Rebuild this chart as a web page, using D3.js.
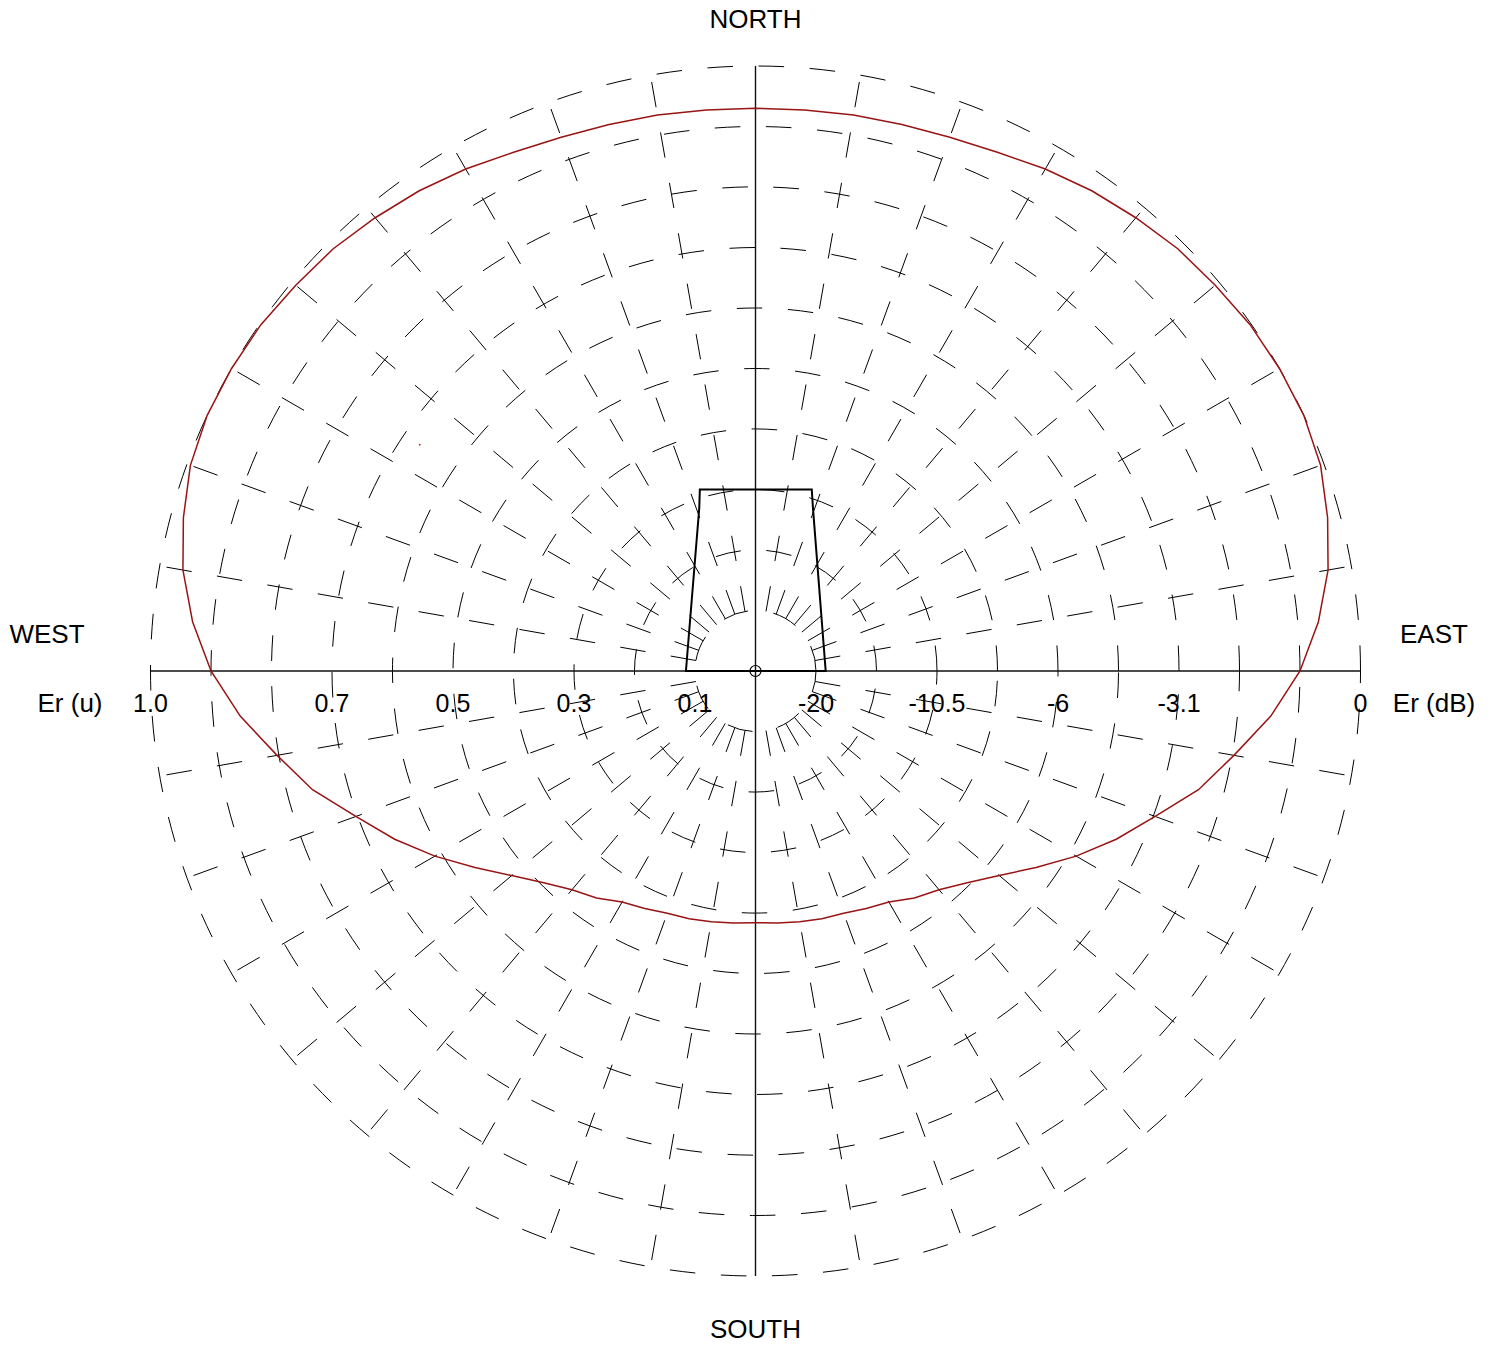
<!DOCTYPE html>
<html>
<head>
<meta charset="utf-8">
<script src="https://cdn.jsdelivr.net/npm/d3@7"></script>
<style>
  html, body { margin: 0; padding: 0; background: #fff; }
  svg text { font-family: "Liberation Sans", Arial, sans-serif; fill: #000; }
</style>
</head>
<body>
<svg id="chart" width="1496" height="1347"></svg>
<script>
// ---- data ----
// grid circles (field strength, linear units)
const gridLevels = [0.1, 0.2, 0.3, 0.4, 0.5, 0.6, 0.7, 0.8, 0.9, 1.0];
// left-hand scale (linear) and right-hand scale (dB)
const linTicks = [1.0, 0.7, 0.5, 0.3, 0.1];
const linTickLabels = ["1.0", "0.7", "0.5", "0.3", "0.1"];
const dbTicks = [0.1, 0.3, 0.5, 0.7, 1.0];
const dbTickLabels = ["-20", "-10.5", "-6", "-3.1", "0"];
// radiation pattern, azimuth in degrees from north (clockwise)
const patternAz = [
  0, 5, 10, 15, 20, 25, 30, 35, 40, 45, 50, 55, 60, 65, 70, 75, 80, 85,
  90, 95, 100, 105, 110, 115, 120, 125, 130, 135, 140, 145, 150, 155, 160, 165, 170, 175,
  180, 185, 190, 195, 200, 205, 210, 215, 220, 225, 230, 235, 240, 245, 250, 255, 260, 265,
  270, 275, 280, 285, 290, 295, 300, 305, 310, 315, 320, 325, 330, 335, 340, 345, 350, 355
];
const patternEr = [
  0.930, 0.931, 0.933, 0.935, 0.939, 0.946, 0.958, 0.969, 0.978, 0.987, 0.992, 0.998, 1.000, 1.000, 0.994, 0.979, 0.961, 0.934,
  0.900, 0.855, 0.803, 0.758, 0.703, 0.658, 0.612, 0.566, 0.526, 0.495, 0.472, 0.458, 0.441, 0.433, 0.426, 0.424, 0.421, 0.418,
  0.416, 0.418, 0.421, 0.424, 0.426, 0.433, 0.441, 0.458, 0.472, 0.495, 0.526, 0.566, 0.612, 0.658, 0.703, 0.758, 0.803, 0.855,
  0.900, 0.934, 0.961, 0.979, 0.994, 1.000, 1.000, 0.998, 0.992, 0.987, 0.978, 0.969, 0.958, 0.946, 0.939, 0.935, 0.933, 0.931
];
// site outline (x east, y north, same units as Er)
const outlineX = [-0.115, -0.093, -0.092, 0.093, 0.095, 0.116];
const outlineY = [0.000, 0.269, 0.300, 0.300, 0.269, 0.000];
// stray point in the pattern layer
const strayX = [-0.555];
const strayY = [0.374];

// ---- layout ----
const cx = 755.5, cy = 671, R = 605;
const svg = d3.select("#chart");
const rScale = d3.scaleLinear().domain([0, 1]).range([0, R]);
const xScale = d3.scaleLinear().domain([-1, 1]).range([cx - R, cx + R]);
const yScale = d3.scaleLinear().domain([-1, 1]).range([cy + R, cy - R]);
const rad = d => d * Math.PI / 180;

const g = svg.append("g").attr("transform", `translate(${cx},${cy})`);

// dashed circles, drawn anticlockwise from east like the original
g.selectAll("path.ring")
  .data(gridLevels)
  .join("path")
  .attr("class", "ring")
  .attr("d", v => {
    const r = rScale(v);
    return `M${r},0 A${r},${r} 0 1 0 ${-r},0 A${r},${r} 0 1 0 ${r},0`;
  })
  .attr("fill", "none")
  .attr("stroke", "#000")
  .attr("stroke-width", 1)
  .attr("stroke-dasharray", "25.6 25.6");

// dashed spokes every 10 degrees (axes drawn solid)
const spokes = d3.range(10, 360, 10).filter(a => a % 90 !== 0);
g.selectAll("line.spoke")
  .data(spokes)
  .join("line")
  .attr("class", "spoke")
  .attr("x1", a => rScale(gridLevels[0]) * Math.sin(rad(a)))
  .attr("y1", a => -rScale(gridLevels[0]) * Math.cos(rad(a)))
  .attr("x2", a => rScale(1) * Math.sin(rad(a)))
  .attr("y2", a => -rScale(1) * Math.cos(rad(a)))
  .attr("stroke", "#000")
  .attr("stroke-width", 1)
  .attr("stroke-dasharray", "25.6 25.6");

// solid axes
g.append("line").attr("x1", -R).attr("x2", R).attr("y1", 0).attr("y2", 0)
  .attr("stroke", "#111").attr("stroke-width", 1.4);
g.append("line").attr("x1", 0).attr("x2", 0).attr("y1", -R).attr("y2", R)
  .attr("stroke", "#111").attr("stroke-width", 1.4);

// pattern
const radial = d3.lineRadial()
  .angle(d => rad(d[0]))
  .radius(d => rScale(d[1]))
  .curve(d3.curveLinearClosed);
g.append("path")
  .datum(patternAz.map((a, i) => [a, patternEr[i]]))
  .attr("d", radial)
  .attr("fill", "none")
  .attr("stroke", "#981414")
  .attr("stroke-width", 1.5);

// outline
const outlineLine = d3.line().x(d => xScale(d[0])).y(d => yScale(d[1])).curve(d3.curveLinearClosed);
svg.append("path")
  .datum(outlineX.map((x, i) => [x, outlineY[i]]))
  .attr("d", outlineLine)
  .attr("fill", "none")
  .attr("stroke", "#000")
  .attr("stroke-width", 2);

svg.selectAll("circle.stray")
  .data(strayX)
  .join("circle")
  .attr("class", "stray")
  .attr("cx", (d, i) => xScale(d))
  .attr("cy", (d, i) => yScale(strayY[i]))
  .attr("r", 0.9)
  .attr("fill", "#cc2222");

// centre marker
g.append("circle").attr("r", 5.5).attr("fill", "none").attr("stroke", "#000").attr("stroke-width", 1.2);

// tick labels
const labelY = 712;
svg.selectAll("text.lin")
  .data(linTicks)
  .join("text")
  .attr("class", "lin")
  .attr("x", v => cx - rScale(v))
  .attr("y", labelY)
  .attr("text-anchor", "middle")
  .attr("font-size", 25)
  .text((v, i) => linTickLabels[i]);
svg.selectAll("text.db")
  .data(dbTicks)
  .join("text")
  .attr("class", "db")
  .attr("x", v => cx + rScale(v))
  .attr("y", labelY)
  .attr("text-anchor", "middle")
  .attr("font-size", 25)
  .text((v, i) => dbTickLabels[i]);

// titles
const titles = [
  { t: "NORTH", x: cx, y: 28 },
  { t: "SOUTH", x: cx, y: 1338 },
  { t: "WEST", x: 47, y: 643 },
  { t: "EAST", x: 1434, y: 643 },
  { t: "Er (u)", x: 70, y: labelY },
  { t: "Er (dB)", x: 1434, y: labelY }
];
svg.selectAll("text.title")
  .data(titles)
  .join("text")
  .attr("class", "title")
  .attr("x", d => d.x)
  .attr("y", d => d.y)
  .attr("text-anchor", "middle")
  .attr("font-size", 26)
  .text(d => d.t);
</script>
</body>
</html>
